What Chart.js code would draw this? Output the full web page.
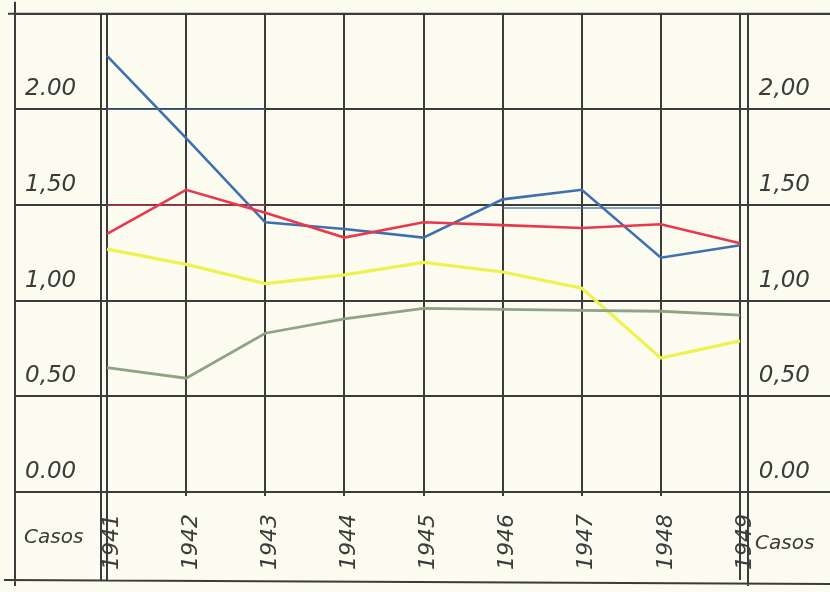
<!DOCTYPE html>
<html lang="es">
<head>
<meta charset="UTF-8" />
<title>Casos 1941-1949</title>
<script src="https://cdn.jsdelivr.net/npm/chart.js@4"></script>
<style>
	html, body {
		margin: 0;
		padding: 0;
		background: #fbfbef;
	}

	.wrap {
		position: relative;
		width: 830px;
		height: 592px;
	}
</style>
</head>
<body>
<div class="wrap">
	<canvas id="casosChart" width="830" height="592"></canvas>
</div>

<script>
	// values
	const years = ['1941', '1942', '1943', '1944', '1945', '1946', '1947', '1948', '1949'];
	const blueValues = [2.28, 1.85, 1.41, 1.375, 1.33, 1.53, 1.58, 1.225, 1.29];
	const redValues = [1.35, 1.58, 1.46, 1.33, 1.41, 1.395, 1.38, 1.40, 1.30];
	const yellowValues = [1.27, 1.19, 1.09, 1.135, 1.20, 1.15, 1.065, 0.70, 0.79];
	const greenValues = [0.65, 0.595, 0.83, 0.905, 0.96, 0.955, 0.95, 0.945, 0.925];

	// faint pencil guide lines
	const blueGuideTop = [2.0, 2.0, 2.0, null, null, null, null, null, null];
	const redGuide = [1.5, 1.5, 1.5, null, null, null, null, null, null];
	const blueGuideMid = [null, null, null, null, null, 1.485, 1.485, 1.485, null];

	const leftTickLabels = ['0.00', '0,50', '1,00', '1,50', '2.00', ''];
	const rightTickLabels = ['0.00', '0,50', '1,00', '1,50', '2,00', ''];
	const sideLabel = 'Casos';

	const INK = '#3b3b3b';
	const PAPER = '#fbfbef';
	const handFont = { family: '"DejaVu Sans", sans-serif', size: 23, style: 'italic' };

	const sheetFrame = {
		id: 'sheetFrame',
		beforeDraw(chart) {
			const { ctx, width, height } = chart;
			ctx.save();
			ctx.fillStyle = PAPER;
			ctx.fillRect(0, 0, width, height);
			ctx.restore();
		},
		afterDraw(chart) {
			const { ctx, width, chartArea } = chart;
			const { left, right, top, bottom } = chartArea;
			const base = 580;

			ctx.save();
			ctx.strokeStyle = INK;
			ctx.lineWidth = 2;
			ctx.beginPath();
			// top rule and outer left rule
			ctx.moveTo(8, top);
			ctx.lineTo(width, top);
			ctx.moveTo(15, top - 12);
			ctx.lineTo(15, base + 6);
			// double rule left of the plot
			ctx.moveTo(left - 6, top);
			ctx.lineTo(left - 6, base);
			ctx.moveTo(left, bottom);
			ctx.lineTo(left, base);
			// double rule right of the plot
			ctx.moveTo(right + 8, top);
			ctx.lineTo(right + 8, base + 6);
			ctx.moveTo(right, bottom);
			ctx.lineTo(right, base);
			// bottom rule
			ctx.moveTo(4, base);
			ctx.lineTo(width, base + 4);
			ctx.stroke();

			ctx.fillStyle = INK;
			ctx.font = 'italic 20px "DejaVu Sans", sans-serif';
			ctx.textBaseline = 'middle';
			ctx.textAlign = 'left';
			ctx.fillText(sideLabel, 24, 538);
			ctx.fillText(sideLabel, right + 15, 544);
			ctx.restore();
		},
	};

	const line = (data, color, width) => ({
		data,
		borderColor: color,
		borderWidth: width,
		pointRadius: 0,
		tension: 0,
		fill: false,
		spanGaps: false,
	});

	new Chart(document.getElementById('casosChart'), {
		type: 'line',
		data: {
			labels: years,
			datasets: [
				line(blueGuideTop, 'rgba(63, 111, 174, 0.8)', 1.2),
				line(redGuide, 'rgba(232, 56, 79, 0.8)', 1.2),
				line(blueGuideMid, 'rgba(63, 111, 174, 0.85)', 1.4),
				line(greenValues, '#8fa487', 2.8),
				line(yellowValues, '#eef24f', 3.2),
				line(redValues, '#e8384f', 2.6),
				line(blueValues, '#3f6fae', 2.6),
			],
		},
		options: {
			responsive: false,
			animation: false,
			events: [],
			layout: { padding: { left: 25, right: 20, top: 12, bottom: 0 } },
			plugins: {
				legend: { display: false },
				tooltip: { enabled: false },
			},
			scales: {
				x: {
					offset: false,
					grid: { color: INK, lineWidth: 2, tickLength: 4 },
					border: { color: INK, width: 2 },
					ticks: {
						autoSkip: false,
						minRotation: 90,
						maxRotation: 90,
						padding: 18,
						labelOffset: 5,
						color: INK,
						font: { ...handFont, size: 22 },
					},
					afterFit(scale) {
						scale.height = 100;
					},
				},
				y: {
					position: 'left',
					min: 0,
					max: 2.5,
					grid: { color: INK, lineWidth: 2, tickLength: 92 },
					border: { color: INK, width: 2 },
					ticks: {
						stepSize: 0.5,
						crossAlign: 'far',
						labelOffset: -20,
						padding: 0,
						color: INK,
						font: handFont,
						callback: (value, index) => leftTickLabels[index],
					},
					afterFit(scale) {
						scale.width = 82;
					},
				},
				y2: {
					position: 'right',
					min: 0,
					max: 2.5,
					grid: { color: INK, lineWidth: 2, tickLength: 90, drawOnChartArea: false },
					border: { color: INK, width: 2 },
					ticks: {
						stepSize: 0.5,
						crossAlign: 'far',
						labelOffset: -20,
						padding: 0,
						color: INK,
						font: handFont,
						callback: (value, index) => rightTickLabels[index],
					},
					afterFit(scale) {
						scale.width = 70;
					},
				},
			},
		},
		plugins: [sheetFrame],
	});
</script>
</body>
</html>
